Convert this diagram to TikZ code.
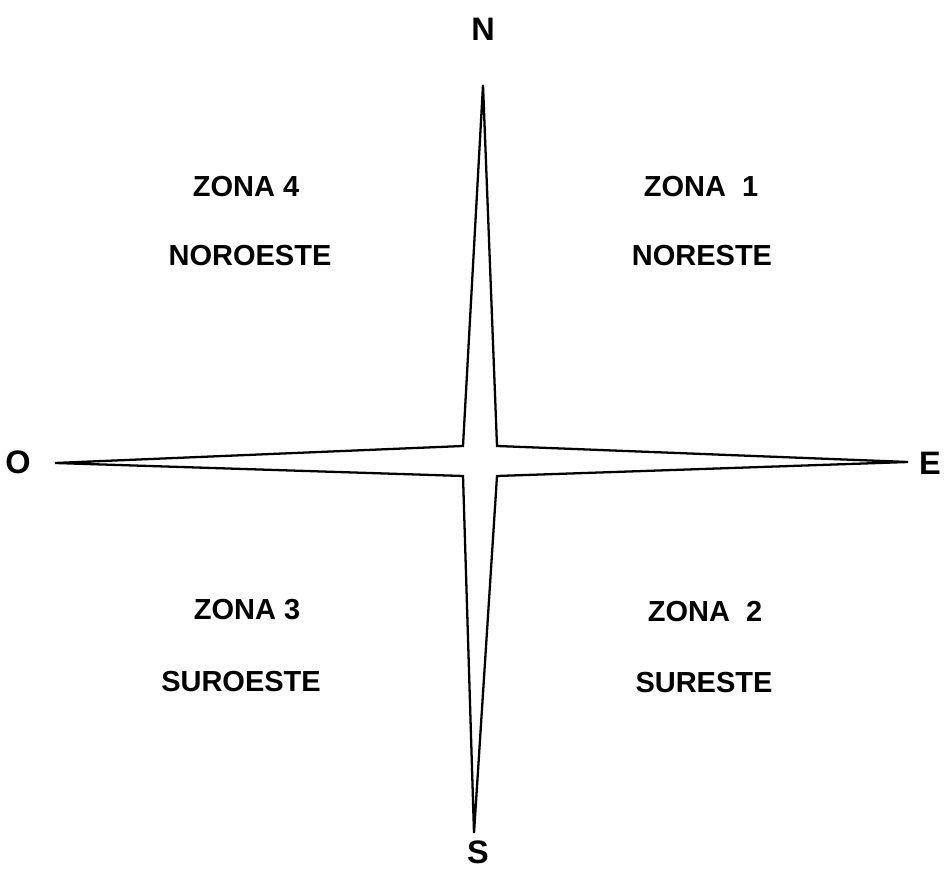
\documentclass[tikz,border=0pt]{standalone}
\usepackage{fontspec}
\setmainfont{Liberation Sans}
\usepackage{tikz}
\usetikzlibrary{positioning}

\tikzset{
  zonetxt/.style={font=\fontsize{16.5}{20}\selectfont\bfseries, inner sep=0pt, anchor=center},
  cardtxt/.style={font=\fontsize{18.5}{22}\selectfont\bfseries, inner sep=0pt, anchor=center},
  starline/.style={line width=1.3pt, line join=miter, fill=white}
}

\begin{document}
\begin{tikzpicture}[x=0.02cm, y=0.02cm]
            \useasboundingbox (0,0) rectangle (946,871);

            % Star points
            \coordinate (tipN) at (483,786);
            \coordinate (tipE) at (908,409);
            \coordinate (tipS) at (474,38);
            \coordinate (tipW) at (55,408);
            \coordinate (cNE) at (497,425);
            \coordinate (cSE) at (497,395);
            \coordinate (cSW) at (463,395);
            \coordinate (cNW) at (463,425);

            % Star outline
            \draw[starline] (tipN) -- (cNE) -- (tipE) -- (cSE) -- (tipS)
                -- (cSW) -- (tipW) -- (cNW) -- cycle;

            % Cardinal points
            \node[cardtxt] (n) at (483,842) {N};
            \node[cardtxt] (s) at (478,19) {S};
            \node[cardtxt] (o) at (18,409) {O};
            \node[cardtxt] (e) at (930,408) {E};

            % Zones
            \node[zonetxt] (z4) at (246,684) {ZONA 4};
            \node[zonetxt] (z4n) at (250,615) {NOROESTE};
            \node[zonetxt] (z1) at (701,684) {ZONA\ \ 1};
            \node[zonetxt] (z1n) at (702,615) {NORESTE};
            \node[zonetxt] (z3) at (247,261) {ZONA 3};
            \node[zonetxt] (z3n) at (241,189) {SUROESTE};
            \node[zonetxt] (z2) at (705,259) {ZONA\ \ 2};
            \node[zonetxt] (z2n) at (704,188) {SURESTE};
        \end{tikzpicture}
\end{document}
